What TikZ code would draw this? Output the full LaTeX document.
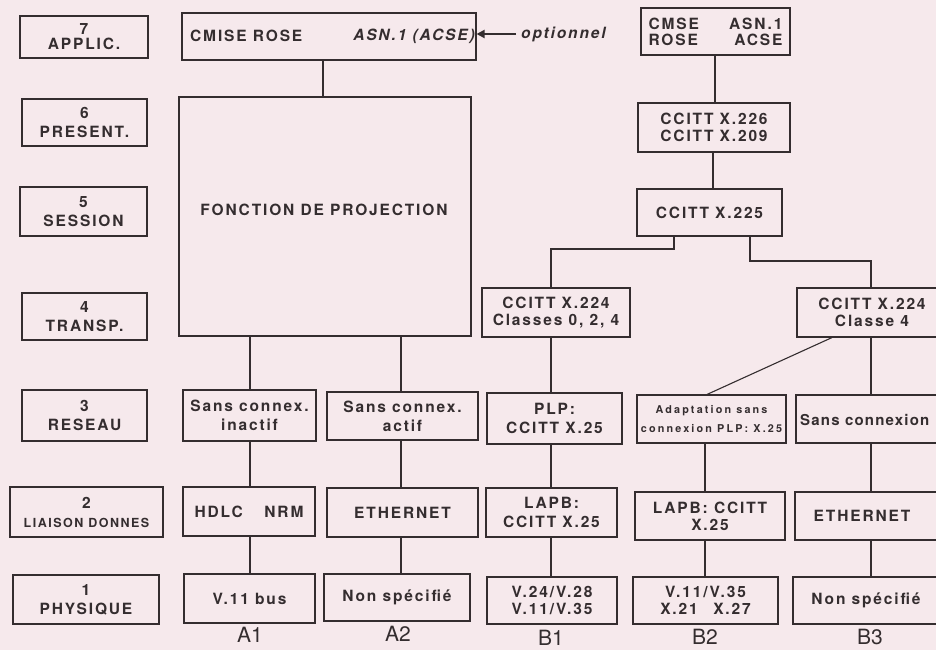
\documentclass[tikz,border=0pt]{standalone}
\usepackage{fontspec}
\setmainfont{TeX Gyre Heros}
\newfontfamily\boxfont{TeX Gyre Heros}[LetterSpace=12]
\newfontfamily\tightfont{TeX Gyre Heros}[LetterSpace=8]
\newfontfamily\smallfont{TeX Gyre Heros}[LetterSpace=20]
\usetikzlibrary{arrows.meta}
\definecolor{bg}{RGB}{246,233,236}
\definecolor{ink}{RGB}{52,45,47}
\begin{document}
\begin{tikzpicture}[x=1pt,y=-1pt,
  box/.style={draw=ink, line width=1.1pt, inner sep=0pt, text=ink, align=center,
    font=\boxfont\bfseries\fontsize{15.5}{19}\selectfont},
  txt/.style={inner sep=0pt, text=ink, font=\boxfont\bfseries\fontsize{15.5}{19}\selectfont},
  conn/.style={draw=ink, line width=1.1pt},
  col/.style={inner sep=0pt, text=ink, font=\fontsize{21}{22}\selectfont}]
\fill[bg] (0,0) rectangle (936,650);
\useasboundingbox (0,0) rectangle (936,650);
\clip (0,0) rectangle (936,650);
% layer labels
\node[box, minimum width=128pt, minimum height=42pt] (L7) at (84,37) {7\\[-4pt]APPLIC.};
\node[box, minimum width=125pt, minimum height=47pt] (L6) at (84.5,122.5) {6\\PRESENT.};
\node[box, minimum width=127pt, minimum height=49pt] (L5) at (83.5,211.5) {5\\SESSION};
\node[box, minimum width=125pt, minimum height=47pt] (L4) at (84.5,316.5) {4\\TRANSP.};
\node[box, minimum width=125pt, minimum height=51pt] (L3) at (84.5,415.5) {3\\RESEAU};
\node[box, minimum width=153pt, minimum height=50pt] (L2) at (86.5,512) {2\\{\fontsize{12.5}{19}\selectfont LIAISON DONNES}};
\node[box, minimum width=146pt, minimum height=49pt] (L1) at (86,599.5) {1\\PHYSIQUE};
% A column
\node[box, minimum width=294pt, minimum height=47pt] (CM) at (329,36.5) {};
\node[txt, anchor=west] (CMt) at (190,36) {CMISE ROSE};
\node[txt, anchor=east] (ASNt) at (475,36) {\itshape ASN.1 (ACSE)};
\coordinate (optstart) at (516,34);
\draw[conn, line width=2.8pt, -{Triangle[length=8pt,width=8pt]}] (optstart) -- (CM.east |- optstart);
\node[txt, anchor=west] (opt) at (521,34) {\itshape optionnel};
\node[box, minimum width=292pt, minimum height=239pt] (FP) at (325,216.5) {};
\node[txt] (FPt) at (324,210) {FONCTION DE PROJECTION};
\node[box, minimum width=133pt, minimum height=51pt] (A13) at (249.5,415.5) {Sans connex.\\inactif};
\node[box, minimum width=132pt, minimum height=49pt] (A12) at (249,511.5) {HDLC\quad\ NRM};
\node[box, minimum width=131pt, minimum height=49pt] (A11) at (249.5,598.5) {V.11 bus};
\node[box, minimum width=151pt, minimum height=48pt] (A23) at (402.5,416) {Sans connex.\\actif};
\node[box, minimum width=151pt, minimum height=49pt] (A22) at (402.5,512.5) {ETHERNET};
\node[box, minimum width=146pt, minimum height=47pt] (A21) at (397,597.5) {Non spécifié};
\node[col] (A1) at (250,635) {A1};
\node[col] (A2) at (398,634) {A2};
\draw[conn] (CM.south -| 323,0) -- (FP.north -| 323,0);
\draw[conn] (FP.south -| 250,0) -- (A13.north -| 250,0);
\draw[conn] (A13.south -| 250,0) -- (A12.north -| 250,0);
\draw[conn] (A12.south -| 250,0) -- (A11.north -| 250,0);
\draw[conn] (FP.south -| 401,0) -- (A23.north -| 401,0);
\draw[conn] (A23.south -| 401,0) -- (A22.north -| 401,0);
\draw[conn] (A22.south -| 401,0) -- (A21.north -| 401,0);
% right upper
\node[box, minimum width=149pt, minimum height=47pt] (R7) at (715.5,31.5)
  {\makebox[134pt]{CMSE\hfill ASN.1}\\[-3pt]\makebox[134pt]{ROSE\hfill ACSE}};
\node[box, minimum width=152pt, minimum height=49pt] (R6) at (714,127.5) {CCITT X.226\\[-2pt]CCITT X.209};
\node[box, minimum width=145pt, minimum height=47pt] (R5) at (709.5,212.5) {CCITT X.225};
\draw[conn] (R7.south -| 715,0) -- (R6.north -| 715,0);
\draw[conn] (R6.south -| 713,0) -- (R5.north -| 713,0);
% B1
\node[box, minimum width=148pt, minimum height=49pt] (B14) at (556,312.5) {CCITT X.224\\[-2pt]Classes 0, 2, 4};
\node[box, minimum width=135pt, minimum height=51pt] (B13) at (554.5,418.5) {PLP:\\CCITT X.25};
\node[box, minimum width=131pt, minimum height=49pt] (B12) at (551.5,512.5) {LAPB:\\CCITT X.25};
\node[box, minimum width=130pt, minimum height=47pt] (B11) at (552,600.5) {V.24/V.28\\[-2pt]V.11/V.35};
% B2
\node[box, minimum width=149pt, minimum height=48pt] (B23) at (711.5,419)
  {\smallfont\fontsize{10.8}{22}\selectfont Adaptation sans\\\smallfont\fontsize{10.8}{22}\selectfont connexion PLP: X.25};
\node[box, minimum width=150pt, minimum height=48pt] (B22) at (710,516) {LAPB: CCITT\\[-2pt]X.25};
\node[box, minimum width=145pt, minimum height=47pt] (B21) at (705.5,600.5) {V.11/V.35\\[-2pt]X.21\quad X.27};
% B3
\node[box, minimum width=150pt, minimum height=49pt] (B34) at (872,312.5) {CCITT X.224\\[-2pt]Classe 4};
\node[box, minimum width=160pt, minimum height=48pt] (B33) at (876,419) {};
\node[inner sep=0pt, text=ink, font=\tightfont\bfseries\fontsize{15}{19}\selectfont, anchor=west] (B33t) at (800,420) {Sans connexion};
\node[box, minimum width=160pt, minimum height=48pt] (B32) at (875,516) {};
\node[txt] (B32t) at (862,516) {ETHERNET};
\node[box, minimum width=160pt, minimum height=47pt] (B31) at (873,600.5) {};
\node[txt] (B31t) at (866,600) {Non spécifié};
\node[col] (B1) at (551,638) {B1};
\node[col] (B2) at (705,637) {B2};
\node[col] (B3) at (870,637) {B3};
% connectors right
\draw[conn] (R5.south -| 674,0) |- (611,249) -| (B14.north -| 551,0);
\draw[conn] (R5.south -| 750,0) |- (811,261) -| (B34.north -| 871,0);
\draw[conn] (B14.south -| 551,0) -- (B13.north -| 551,0);
\draw[conn] (B13.south -| 551,0) -- (B12.north -| 551,0);
\draw[conn] (B12.south -| 551,0) -- (B11.north -| 551,0);
\draw[conn] (B34.south -| 832,0) -- (B23.north -| 707,0);
\draw[conn] (B23.south -| 705,0) -- (B22.north -| 705,0);
\draw[conn] (B22.south -| 705,0) -- (B21.north -| 705,0);
\draw[conn] (B34.south -| 871,0) -- (B33.north -| 871,0);
\draw[conn] (B33.south -| 871,0) -- (B32.north -| 871,0);
\draw[conn] (B32.south -| 871,0) -- (B31.north -| 871,0);
\end{tikzpicture}
\end{document}
